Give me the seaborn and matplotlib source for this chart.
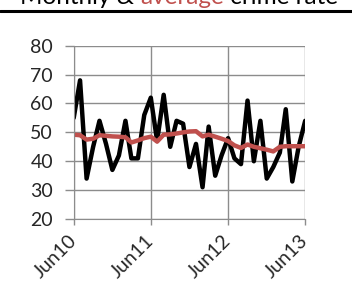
import pandas as pd
import matplotlib.pyplot as plt
from matplotlib.lines import Line2D
import seaborn as sns

# -------------------------------------------------------------------------
# Datos (mensual Jun10 - Jun13)
# -------------------------------------------------------------------------
meses = pd.date_range("2010-06-01", periods=37, freq="MS")

tasa_mensual = [55, 68, 34, 45, 54, 46, 37, 42, 54, 41, 41, 56,
                62, 47, 63, 45, 54, 53, 38, 46, 31, 52, 35, 42,
                48, 41, 39, 61, 40, 54, 34, 38, 43, 58, 33, 45, 54]

tasa_promedio = [49.2, 49.0, 47.5, 47.8, 49.0, 48.8, 48.6, 48.5, 48.3, 46.5, 47.2, 48.0,
                 48.5, 46.8, 49.2, 49.3, 49.6, 50.0, 50.3, 50.4, 48.6, 49.2, 48.5, 47.8,
                 47.0, 45.5, 44.6, 45.8, 45.0, 44.5, 44.0, 43.4, 45.0, 45.2, 45.2, 45.2, 45.2]

ticks_x = pd.to_datetime(["2010-06-01", "2011-06-01", "2012-06-01", "2013-06-01"])
etiquetas_x = ["Jun10", "Jun11", "Jun12", "Jun13"]
ticks_y = [20, 30, 40, 50, 60, 70, 80]

df = pd.DataFrame({"mes": meses, "mensual": tasa_mensual, "promedio": tasa_promedio})

# -------------------------------------------------------------------------
# Estilo
# -------------------------------------------------------------------------
sns.set_style("white")
plt.rcParams["font.family"] = ["Lato", "DejaVu Sans"]

gris = "#8c8c8c"
rojo = "#C0504D"

fig = plt.figure(figsize=(3.52, 2.94), dpi=100)
ax = fig.add_axes([0.2094, 0.255, 0.6576, 0.5896])

sns.lineplot(data=df, x="mes", y="mensual", ax=ax, color="black", linewidth=3.2,
             solid_joinstyle="round", solid_capstyle="round")
sns.lineplot(data=df, x="mes", y="promedio", ax=ax, color=rojo, linewidth=3.2,
             solid_joinstyle="round", solid_capstyle="round")

ax.set_xlim(meses[0], meses[-1])
ax.set_ylim(20, 80)
ax.set_yticks(ticks_y)
ax.set_xticks(ticks_x)
ax.set_xticklabels(etiquetas_x, rotation=45, ha="right", va="center", rotation_mode="anchor")
ax.set_xlabel("")
ax.set_ylabel("")

ax.grid(True, color=gris, linewidth=1.0)
for s in ax.spines.values():
    s.set_visible(False)
ax.spines["left"].set_visible(True)
ax.spines["left"].set_color(gris)
ax.spines["bottom"].set_visible(True)
ax.spines["bottom"].set_color(gris)

ax.tick_params(axis="y", length=6.5, width=1.0, color=gris, pad=8.4, labelsize=14, left=True)
ax.tick_params(axis="x", length=4.5, width=1.0, color=gris, pad=9, labelsize=14, bottom=True)

# -------------------------------------------------------------------------
# Título (cortado arriba) con "average" en rojo
# -------------------------------------------------------------------------
y_base = 1 - 4 / 294
t1 = fig.text(20 / 352, y_base, "Monthly & ", fontsize=17.5, color="black", va="baseline")
t2 = fig.text(0, 0, "average", fontsize=17.5, color=rojo, va="baseline")
t3 = fig.text(0, 0, " crime rate", fontsize=17.5, color="black", va="baseline")
fig.canvas.draw()
r = fig.canvas.get_renderer()
t2.set_position((t1.get_window_extent(r).x1 / fig.bbox.width, y_base))
fig.canvas.draw()
t3.set_position((t2.get_window_extent(r).x1 / fig.bbox.width, y_base))

fig.add_artist(Line2D([0, 1], [1 - 10.5 / 294, 1 - 10.5 / 294], transform=fig.transFigure,
                      color="black", linewidth=2.2))

fig.savefig("out.png", dpi=100)
